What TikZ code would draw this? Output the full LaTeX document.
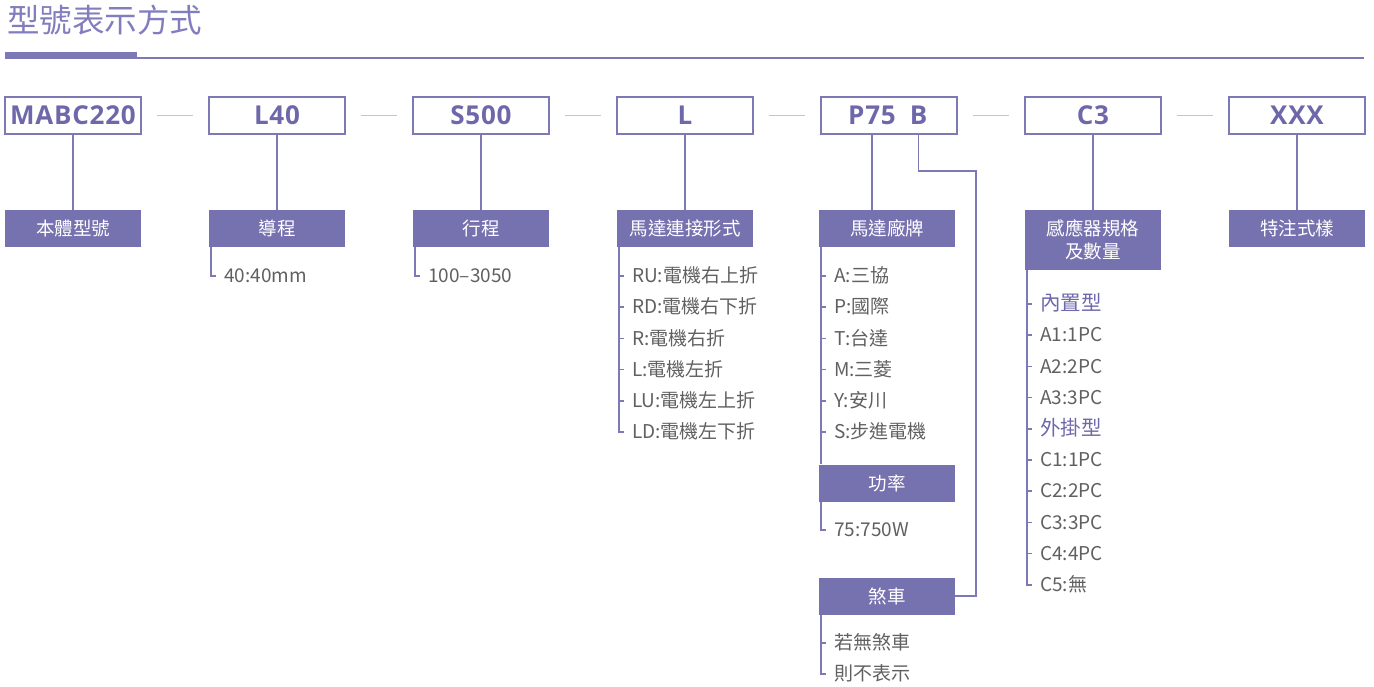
\documentclass[tikz,border=0pt]{standalone}
\usepackage{fontspec}
\setmainfont{Noto Sans CJK TC}
\newfontfamily\codefont{Open Sans}[LetterSpace=3]
\definecolor{purfill}{RGB}{118,113,175}
\definecolor{purline}{RGB}{125,120,182}
\definecolor{purtitle}{RGB}{130,126,190}
\definecolor{purtext}{RGB}{110,104,170}
\definecolor{sepcol}{RGB}{196,196,216}
\definecolor{itemgray}{RGB}{96,96,96}
\begin{document}
\begin{tikzpicture}[x=1pt,y=-1pt,
  codebox/.style={draw=purline, line width=1.8pt, minimum width=136pt, minimum height=37pt, inner sep=0pt,
    font=\codefont\bfseries\fontsize{26}{26}\selectfont, text=purtext},
  codetxt/.style={inner sep=0pt, font=\codefont\bfseries\fontsize{26}{26}\selectfont, text=purtext},
  labbox/.style={fill=purfill, text=white, minimum width=136pt, minimum height=37pt, inner sep=0pt,
    font=\fontsize{18.5}{23}\selectfont, align=center},
  item/.style={anchor=west, inner sep=0pt, text=itemgray, font=\fontsize{19}{19}\selectfont,
    text height=15pt, text depth=1.5pt},
  head/.style={item, text=purtext, font=\fontsize{20.5}{20.5}\selectfont},
  link/.style={draw=purline, line width=1.5pt},
  sepline/.style={draw=sepcol, line width=1.3pt},
]
\useasboundingbox (0,0) rectangle (1374,687);
% title
\node[anchor=west, inner sep=0pt, text=purtitle, font=\fontsize{32.5}{32.5}\selectfont] (title) at (7,20) {型號表示方式};
\fill[purline] (5,52) rectangle (137,58.6);
\draw[purline, line width=1.5pt] (5,57.9) -- (1364,57.9);

% code boxes
\node[codebox] (c0) at (73,115.5) {MABC220};
\node[codebox] (c1) at (277,115.5) {L40};
\node[codebox] (c2) at (481,115.5) {S500};
\node[codebox] (c3) at (685,115.5) {L};
\node[codebox] (c4) at (889,115.5) {};
\node[codetxt] (p75) at (872,115.5) {P75};
\node[codetxt] (pb) at (918.5,115.5) {B};
\node[codebox] (c5) at (1093,115.5) {C3};
\node[codebox] (c6) at (1297,115.5) {XXX};
\foreach \a/\b in {c0/c1,c1/c2,c2/c3,c3/c4,c4/c5,c5/c6}
  \draw[sepline] ([xshift=15pt]\a.east) -- ([xshift=-15pt]\b.west);

% label boxes
\node[labbox] (l0) at (73,228.5) {本體型號};
\node[labbox] (l1) at (277,228.5) {導程};
\node[labbox] (l2) at (481,228.5) {行程};
\node[labbox] (l3) at (685,228.5) {馬達連接形式};
\node[labbox] (l4) at (887,228.5) {馬達廠牌};
\node[labbox, minimum height=60pt] (l5) at (1093,240) {感應器規格\\及數量};
\node[labbox] (l6) at (1297,228.5) {特注式樣};
\node[labbox] (pw) at (887,483) {功率};
\node[labbox] (br) at (887,596) {煞車};

% vertical connectors
\foreach \i in {0,1,2,3,5,6}
  \draw[link] (c\i.south) -- (l\i.north);
\draw[link] (p75.south |- c4.south) -- (p75.south |- l4.north);
\coordinate (bend) at (976,171);
\draw[link] (pb.south |- c4.south) |- (bend) |- (br.east);

% lists
\node[item] (d1) at (224,276) {40:40mm};
\draw[link] ([xshift=2pt]l1.south west) |- ([xshift=-8pt]d1.west);
\node[item] (s1) at (428,276) {100–3050};
\draw[link] ([xshift=2pt]l2.south west) |- ([xshift=-8pt]s1.west);

\foreach \t [count=\k] in {RU:電機右上折,RD:電機右下折,R:電機右折,L:電機左折,LU:電機左上折,LD:電機左下折}
  \node[item] (m\k) at (632,{276+31.2*(\k-1)}) {\t};
\draw[link] ([xshift=2pt]l3.south west) |- ([xshift=-8pt]m6.west);
\foreach \k in {1,...,5}
  \draw[link] ([xshift=-13pt]m\k.west) -- ([xshift=-8pt]m\k.west);

\foreach \t [count=\k] in {A:三協,P:國際,T:台達,M:三菱,Y:安川,S:步進電機}
  \node[item] (n\k) at (834,{276+31.2*(\k-1)}) {\t};
\draw[link] ([xshift=2pt]l4.south west) -- ([xshift=2pt]l4.south west |- pw.north);
\foreach \k in {1,...,6}
  \draw[link] ([xshift=-13pt]n\k.west) -- ([xshift=-8pt]n\k.west);

\node[item] (w1) at (834,530) {75:750W};
\draw[link] ([xshift=2pt]pw.south west) |- ([xshift=-8pt]w1.west);

\node[item] (k1) at (834,643) {若無煞車};
\node[item] (k2) at (834,674) {則不表示};
\draw[link] ([xshift=2pt]br.south west) |- ([xshift=-8pt]k2.west);
\draw[link] ([xshift=-13pt]k1.west) -- ([xshift=-8pt]k1.west);

\node[head] (q1) at (1040,304) {內置型};
\foreach \t [count=\k from 2] in {A1:1PC,A2:2PC,A3:3PC}
  \node[item] (q\k) at (1040,{304+31.2*(\k-1)}) {\t};
\node[head] (q5) at (1040,428.8) {外掛型};
\foreach \t [count=\k from 6] in {C1:1PC,C2:2PC,C3:3PC,C4:4PC,C5:無}
  \node[item] (q\k) at (1040,{304+31.2*(\k-1)}) {\t};
\draw[link] ([xshift=2pt]l5.south west) |- ([xshift=-8pt]q10.west);
\foreach \k in {1,...,9}
  \draw[link] ([xshift=-13pt]q\k.west) -- ([xshift=-8pt]q\k.west);
\end{tikzpicture}
\end{document}
